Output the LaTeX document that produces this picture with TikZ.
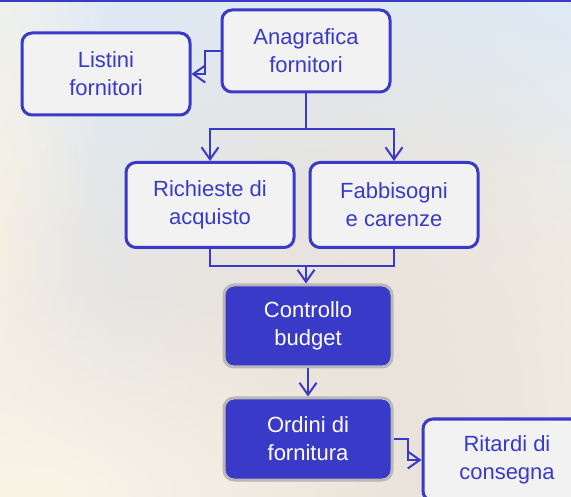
\documentclass[tikz,border=0pt]{standalone}
\usepackage{fontspec}
\setmainfont{Liberation Sans}
\usetikzlibrary{arrows.meta,fadings}
\definecolor{flowblue}{RGB}{58,58,200}
\definecolor{boxgrey}{RGB}{242,242,242}
\definecolor{rimgrey}{RGB}{184,184,184}
\definecolor{sky}{RGB}{221,235,249}
\definecolor{sand}{RGB}{234,227,219}
\definecolor{cream}{RGB}{251,245,231}
\tikzfading[name=soft blob, inner color=transparent!0, outer color=transparent!100]
\tikzset{
    lightbox/.style={draw=flowblue, line width=3pt, fill=boxgrey, rounded corners=10pt,
        minimum width=168pt, minimum height=82pt, inner sep=0pt, align=center,
        text=flowblue, font=\fontsize{22}{28}\selectfont},
    darkbox/.style={lightbox, draw=rimgrey, fill=flowblue, text=white},
    link/.style={draw=flowblue, line width=2pt},
    flow/.style={link, -{Straight Barb[length=12pt,width=17pt]}},
    haze/.style={path fading=soft blob},
}
\begin{document}
\begin{tikzpicture}[x=1pt, y=-1pt]
\clip (0,0) rectangle (571,497);

%background
\fill[sky] (0,0) rectangle (571,497);
\fill[cream, haze] (560,420) ellipse (320 and 420);
\fill[cream, haze] (560,420) ellipse (240 and 300);
\fill[cream, haze] (0,260) ellipse (120 and 640);
\fill[sand, haze] (320,430) ellipse (470 and 560);
\fill[sand, haze] (320,420) ellipse (360 and 420);
\fill[cream, haze] (40,500) ellipse (380 and 220);
\fill[flowblue] (0,0) rectangle (571,2.5);

%boxes
\node[lightbox] (anag) at (306,51) {Anagrafica\\fornitori};
\node[lightbox] (listini) at (106,74) {Listini\\fornitori};
\node[lightbox, minimum height=85pt] (richieste) at (210,205) {Richieste di\\acquisto};
\node[lightbox, minimum height=85pt] (fabb) at (394,205) {Fabbisogni\\e carenze};
\node[darkbox] (controllo) at (308,326) {Controllo\\budget};
\node[darkbox] (ordini) at (308,439) {Ordini di\\fornitura};
\node[lightbox] (ritardi) at (507,460) {Ritardi di\\consegna};

%connectors
\coordinate (split) at (306,129);
\coordinate (merge) at (306,266);
\draw[flow] (anag.west) -- ++(-16,0) |- (listini.east);
\draw[link] (anag.south) -- (split);
\draw[flow] (split) -| (richieste.north);
\draw[flow] (split) -| (fabb.north);
\draw[link] (richieste.south) |- (merge) -| (fabb.south);
\draw[flow] (merge) -- (merge |- controllo.north);
\draw[flow] (controllo.south) -- (ordini.north);
\draw[flow] (ordini.east) -- ++(14,0) |- (ritardi.west);
\end{tikzpicture}
\end{document}
